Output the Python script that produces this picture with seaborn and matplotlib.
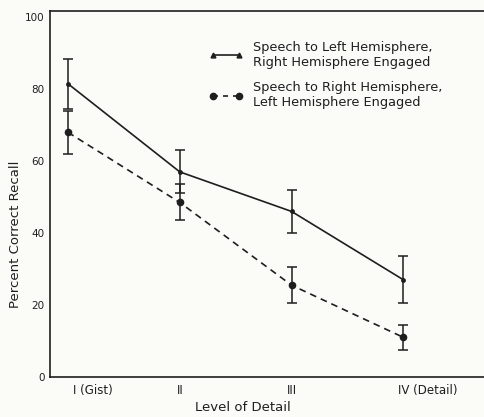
import matplotlib
matplotlib.use("Agg")
import matplotlib.pyplot as plt
import matplotlib.transforms as mtrans
from matplotlib.lines import Line2D
import seaborn as sns
import pandas as pd
import numpy as np

levels = ["I (Gist)", "II", "III", "IV (Detail)"]
left_speech = [81.5, 57.0, 46.0, 27.0]
left_err = [7.0, 6.0, 6.0, 6.5]
right_speech = [68.0, 48.5, 25.5, 11.0]
right_err = [6.0, 5.0, 5.0, 3.5]
series_names = ["Speech to Left Hemisphere,\nRight Hemisphere Engaged",
                "Speech to Right Hemisphere,\nLeft Hemisphere Engaged"]

sns.set_style("white")
plt.rcParams['font.family'] = ['DejaVu Sans']

ink = "#1e1e1e"
bg = "#fbfbf8"

df = pd.DataFrame({
    "x": list(range(len(levels))) * 2,
    "y": left_speech + right_speech,
    "s": [series_names[0]] * 4 + [series_names[1]] * 4,
})

fig = plt.figure(figsize=(4.84, 4.17), dpi=100, facecolor=bg)
ax = fig.add_axes([50/484, 40/417, 434/484, 366/417], facecolor=bg)

sns.lineplot(data=df, x="x", y="y", hue="s", style="s",
             palette=[ink, ink], dashes=[(None, None), (4, 3)],
             markers=["o", "o"], markersize=4, linewidth=1.2,
             markeredgewidth=0, legend=False, ax=ax)
ax.lines[0].set_markersize(3.5)
ax.lines[1].set_markersize(5.5)

xs = np.arange(len(levels))
ax.errorbar(xs, left_speech, yerr=left_err, fmt="none", ecolor=ink,
            elinewidth=1.1, capsize=3.5, capthick=1.1)
ax.errorbar(xs, right_speech, yerr=right_err, fmt="none", ecolor=ink,
            elinewidth=1.1, capsize=3.5, capthick=1.1)

ax.set_xlim(-0.16, 3.72)
ax.set_ylim(0, 101.7)
ax.set_yticks([0, 20, 40, 60, 80, 100])
ax.set_yticks([10, 30, 50, 70, 90], minor=True)
ax.set_xticks(xs)
ax.set_xticklabels(levels)
ax.tick_params(axis="both", which="both", direction="in", color=ink,
               labelcolor=ink)
ax.tick_params(axis="y", which="major", length=7, width=1, pad=4, labelsize=7.5)
ax.tick_params(axis="y", which="minor", length=7, width=1)
ax.tick_params(axis="x", which="major", length=4, width=1, pad=5, labelsize=8.5)

labs = ax.get_xticklabels()
offs = {0: 5/100, 3: -5/100}
for i, dx in offs.items():
    labs[i].set_ha("left")
    labs[i].set_transform(labs[i].get_transform() +
                          mtrans.ScaledTranslation(dx, 0, fig.dpi_scale_trans))

for side in ("left", "bottom", "top"):
    ax.spines[side].set_visible(True)
    ax.spines[side].set_color(ink)
    ax.spines[side].set_linewidth(1.2)
ax.spines["right"].set_visible(False)

ax.set_xlabel("Level of Detail", fontsize=9.5, color=ink)
ax.set_ylabel("Percent Correct Recall", fontsize=9.5, color=ink)
ax.xaxis.set_label_coords(0.445, -0.066)
ax.yaxis.set_label_coords(-0.065, 0.39)

handles = [
    Line2D([0], [0], color=ink, lw=1.2, marker="^", markersize=3.5, markevery=[1]),
    Line2D([0], [0], color=ink, lw=1.2, ls=(0, (3, 3)), marker="o", markersize=4.5),
]
leg = ax.legend(handles, series_names, loc="upper left",
                bbox_to_anchor=(0.34, 0.95), frameon=False, fontsize=9.3,
                handlelength=2.6, numpoints=2, labelspacing=0.95,
                handletextpad=0.8)
for t in leg.get_texts():
    t.set_color(ink)

fig.savefig("out.png", dpi=100, facecolor=bg)
